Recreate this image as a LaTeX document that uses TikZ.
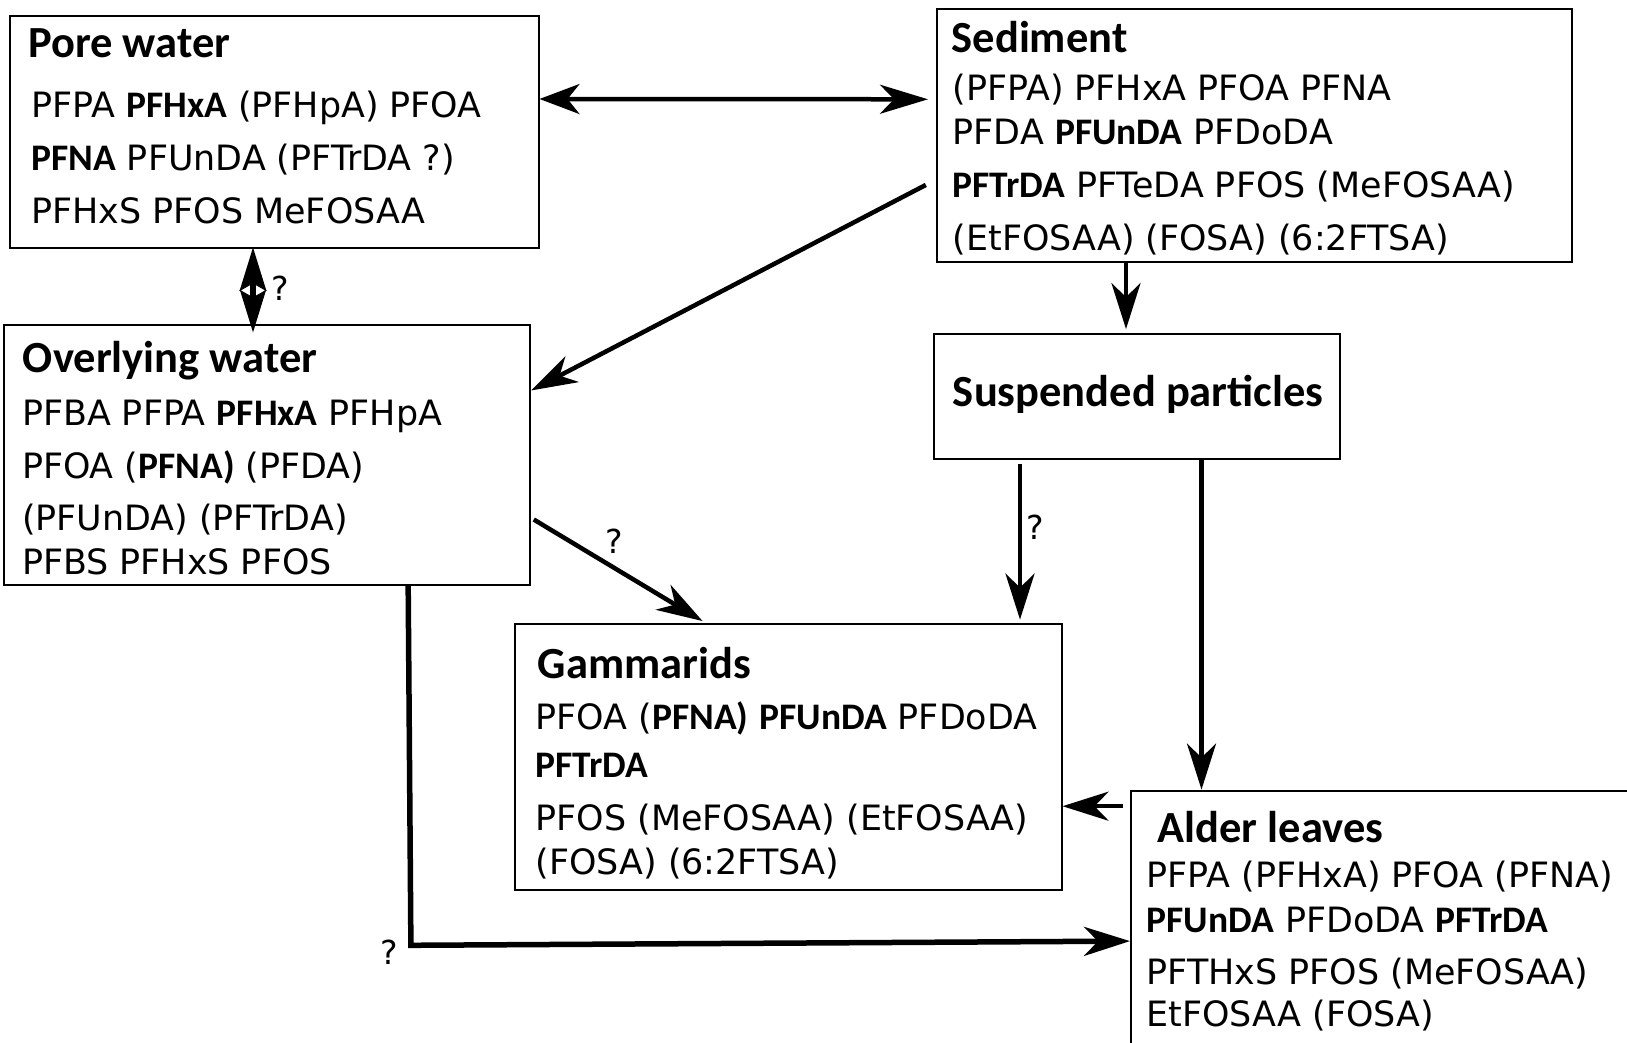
\documentclass[tikz,border=0pt]{standalone}
\usepackage{fontspec}
\setmainfont{DejaVu Sans}
\newfontfamily\carl{Carlito}
\usetikzlibrary{arrows.meta,calc}
\newcommand\B[1]{{\carl\bfseries\fontsize{37.5}{40}\selectfont #1}}
\tikzset{
  box/.style={draw, line width=2pt, rectangle, inner sep=0pt},
  txt/.style={anchor=base west, inner sep=0pt, font=\fontsize{34.9}{40}\selectfont},
  head/.style={anchor=base west, inner sep=0pt, font=\carl\bfseries\fontsize{44.5}{48}\selectfont},
  qm/.style={inner sep=0pt, font=\fontsize{33}{36}\selectfont},
  arr/.style={line width=4.5pt, -{Stealth[length=46pt,width=29pt,inset=14pt]}},
  darr/.style={line width=4.5pt, {Stealth[length=40pt,width=30pt,inset=12pt]}-{Stealth[length=48pt,width=29pt,inset=14pt]}},
}
\begin{document}
\begin{tikzpicture}[x=1pt,y=-1pt]
\useasboundingbox (0,0) rectangle (1627,1043);
\fill[white] (0,0) rectangle (1627,1043);
\clip (0,0) rectangle (1627,1043);
% boxes
\node[box, minimum width=528.1pt, minimum height=232.4pt] (pore) at (274.45,131.8) {};
\node[box, minimum width=635pt, minimum height=252.2pt] (sed) at (1254.5,135.4) {};
\node[box, minimum width=526pt, minimum height=260.4pt] (ovl) at (267.2,455) {};
\node[box, minimum width=405.7pt, minimum height=124.5pt] (susp) at (1136.65,396.35) {};
\node[box, minimum width=546.9pt, minimum height=266.7pt] (gam) at (788.05,756.95) {};
\node[box, minimum width=509pt, minimum height=269.4pt] (alder) at (1385.5,925.3) {};
% pore water text
\node[head] (poreh) at (28,57.6) {Pore water};
\node[txt] (pore1) at (31.1,117.6) {PFPA \B{PFHxA} (PFHpA) PFOA};
\node[txt] (pore2) at (31.1,170.5) {\B{PFNA} PFUnDA (PFTrDA ?)};
\node[txt] (pore3) at (31.1,223.4) {PFHxS PFOS MeFOSAA};
% sediment text
\node[head] (sedh) at (951.5,52.4) {Sediment};
\node[txt] (sed1) at (952.5,101) {(PFPA) PFHxA PFOA PFNA};
\node[txt] (sed2) at (952.5,144.6) {PFDA \B{PFUnDA} PFDoDA};
\node[txt] (sed3) at (952.5,197.5) {\B{PFTrDA} PFTeDA PFOS (MeFOSAA)};
\node[txt] (sed4) at (952.5,250.4) {(EtFOSAA) (FOSA) (6:2FTSA)};
% overlying water text
\node[head] (ovlh) at (22.8,372) {Overlying water};
\node[txt] (ovl1) at (21.8,425.8) {PFBA PFPA \B{PFHxA} PFHpA};
\node[txt] (ovl2) at (21.8,478.7) {PFOA (\B{PFNA)} (PFDA)};
\node[txt] (ovl3) at (21.8,530.6) {(PFUnDA) (PFTrDA)};
\node[txt] (ovl4) at (21.8,574.1) {PFBS PFHxS PFOS};
% suspended particles
\node[inner sep=0pt, font=\carl\bfseries\fontsize{44.5}{48}\selectfont] (susph) at (1138.2,394.3) {Suspended particles};
% gammarids text
\node[head] (gamh) at (537.5,678) {Gammarids};
\node[txt] (gam1) at (535.4,729.8) {PFOA (\B{PFNA)} \B{PFUnDA} PFDoDA};
\node[txt] (gam2) at (535.4,777.5) {\B{PFTrDA}};
\node[txt] (gam3) at (535.4,830.4) {PFOS (MeFOSAA) (EtFOSAA)};
\node[txt] (gam4) at (535.4,874) {(FOSA) (6:2FTSA)};
% alder leaves text
\node[head] (alderh) at (1157.5,842) {Alder leaves};
\node[txt] (alder1) at (1146.5,887.5) {PFPA (PFHxA) PFOA (PFNA)};
\node[txt] (alder2) at (1146.5,932.1) {\B{PFUnDA} PFDoDA \B{PFTrDA}};
\node[txt] (alder3) at (1146.5,984) {PFTHxS PFOS (MeFOSAA)};
\node[txt] (alder4) at (1146.5,1026.5) {EtFOSAA (FOSA)};
% helper coordinates
\coordinate (px) at (253,0);
\coordinate (sx) at (1126,0);
\coordinate (gx) at (1020,0);
\coordinate (ax) at (1201.5,0);
\coordinate (ay) at (0,806.2);
\coordinate (ey) at (0,941.1);
\coordinate (elbow) at (410.9,945.3);
% connectors
\draw[darr, shorten >=8pt] ($(pore.north east)!0.36!(pore.south east)$) -- ($(sed.north west)!0.358!(sed.south west)$);
\draw[line width=4.5pt, {Triangle[length=43pt,width=25pt]}-{Triangle[length=43pt,width=25pt]}]
  ($(pore.south -| px)+(0,-2)$) -- ($(ovl.north -| px)+(0,9)$);
\coordinate (mid) at ($(pore.south -| px)!0.5!(ovl.north -| px)+(0,4)$);
\draw[line width=0.9pt, fill=white] ($(mid)+(-2.5,-6)$) -- ($(mid)+(-13,0)$) -- ($(mid)+(-2.5,6)$) -- cycle;
\draw[line width=0.9pt, fill=white] ($(mid)+(2.5,-6)$) -- ($(mid)+(13,0)$) -- ($(mid)+(2.5,6)$) -- cycle;
\node[qm] (q1) at (280,288.5) {?};
\draw[arr, shorten <=11.5pt] ($(sed.north west)!0.674!(sed.south west)$) -- ($(ovl.north east)!0.254!(ovl.south east)$);
\draw[arr, shorten >=4pt] (sed.south -| sx) -- (susp.north -| sx);
\draw[arr, shorten <=4pt, shorten >=3pt] (susp.south -| gx) -- (gam.north -| gx);
\node[qm] (q2) at (1035.5,527) {?};
\draw[arr] (susp.south -| ax) -- (alder.north -| ax);
\draw[arr, shorten <=7pt] (alder.west |- ay) -- (gam.east |- ay);
\draw[arr, shorten <=3pt, shorten >=3pt] ($(ovl.north east)!0.74!(ovl.south east)$) -- ($(gam.north west)!0.349!(gam.north east)$);
\node[qm] (q3) at (614,541.6) {?};
\draw[arr, line width=5.5pt] ($(ovl.south west)!0.767!(ovl.south east)$) -- (elbow) -- (alder.west |- ey);
\node[qm] (q4) at (389,952.5) {?};
\end{tikzpicture}
\end{document}
